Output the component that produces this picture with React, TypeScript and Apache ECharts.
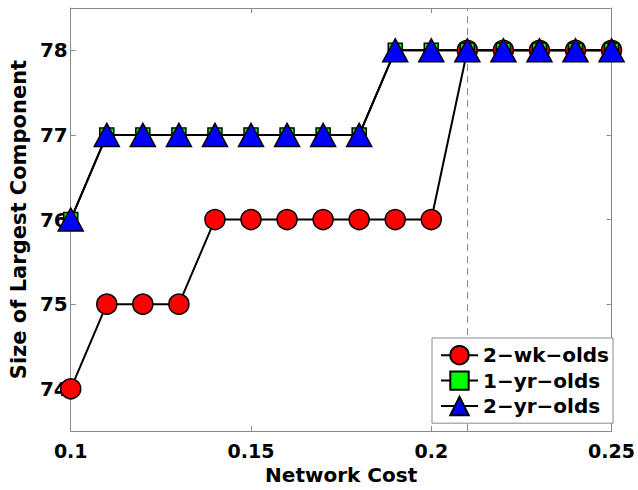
import React, { useEffect, useRef } from "react";
import * as echarts from "echarts";

const costs = [0.10, 0.11, 0.12, 0.13, 0.14, 0.15, 0.16, 0.17, 0.18, 0.19, 0.20, 0.21, 0.22, 0.23, 0.24, 0.25];
const wk2Olds = [74, 75, 75, 75, 76, 76, 76, 76, 76, 76, 76, 78, 78, 78, 78, 78];
const yr1Olds = [76, 77, 77, 77, 77, 77, 77, 77, 77, 78, 78, 78, 78, 78, 78, 78];
const yr2Olds = [76, 77, 77, 77, 77, 77, 77, 77, 77, 78, 78, 78, 78, 78, 78, 78];
const yTicks = [74, 75, 76, 77, 78];
const thresholdCost = 0.21;
const seriesNames = ["2−wk−olds", "1−yr−olds", "2−yr−olds"];

const FONT = '"DejaVu Sans", sans-serif';
const GRAY = "#8a8a8a";

export default function App() {
  const ref = useRef<HTMLDivElement>(null);
  useEffect(() => {
    if (!ref.current) return;
    const chart = echarts.init(ref.current, null, { renderer: "svg" });
    const pair = (ys: number[]) => costs.map((c, i) => [c, ys[i]]);
    const fmtX = (v: number) => String(parseFloat(v.toFixed(2)));
    const baseX = {
      type: "value",
      min: 0.1,
      max: 0.25,
      interval: 0.05,
      axisLine: { show: true, lineStyle: { color: GRAY, width: 1 } },
      axisTick: { show: true, inside: true, length: 5, lineStyle: { color: GRAY } },
      splitLine: { show: false },
    };
    const baseY = {
      type: "value",
      min: 73.5,
      max: 78.5,
      axisLine: { show: true, lineStyle: { color: GRAY, width: 1 } },
      axisTick: { show: true, inside: true, length: 5, lineStyle: { color: GRAY }, customValues: yTicks },
      splitLine: { show: false },
    };
    const lineStyle = { color: "#000", width: 2 };
    chart.setOption({
      animation: false,
      backgroundColor: "#fff",
      grid: { left: 70, right: 24, top: 8, bottom: 54 },
      xAxis: [
        {
          ...baseX,
          position: "bottom",
          name: "Network Cost",
          nameLocation: "middle",
          nameGap: 32,
          nameTextStyle: { fontFamily: FONT, fontWeight: "bold", fontSize: 20, color: "#000" },
          axisLabel: { show: true, formatter: fmtX, fontFamily: FONT, fontWeight: "bold", fontSize: 19, color: "#000", margin: 10 },
        },
        { ...baseX, position: "top", axisLabel: { show: false } },
      ],
      yAxis: [
        {
          ...baseY,
          position: "left",
          name: "Size of Largest Component",
          nameLocation: "middle",
          nameGap: 38,
          nameTextStyle: { fontFamily: FONT, fontWeight: "bold", fontSize: 21, color: "#000" },
          axisLabel: { show: true, customValues: yTicks, fontFamily: FONT, fontWeight: "bold", fontSize: 20, color: "#000", margin: 3 },
        },
        { ...baseY, position: "right", axisLabel: { show: false } },
      ],
      legend: {
        left: 432,
        top: 338,
        orient: "vertical",
        padding: [7, 4, 7, 8],
        itemWidth: 37,
        itemHeight: 23,
        itemGap: 5,
        borderColor: GRAY,
        borderWidth: 1,
        backgroundColor: "#fff",
        borderRadius: 0,
        textStyle: { fontFamily: FONT, fontWeight: "bold", fontSize: 20, color: "#000" },
        data: seriesNames,
      },
      series: [
        {
          name: seriesNames[0],
          type: "line",
          data: pair(wk2Olds),
          symbol: "circle",
          symbolSize: 20,
          clip: false,
          lineStyle,
          itemStyle: { color: "#ff0000", borderColor: "#000", borderWidth: 1.5 },
          markLine: {
            silent: true,
            z: 1,
            symbol: ["none", "none"],
            label: { show: false },
            lineStyle: { color: GRAY, type: [7, 5], width: 1 },
            data: [{ xAxis: thresholdCost }],
          },
        },
        {
          name: seriesNames[1],
          type: "line",
          data: pair(yr1Olds),
          symbol: "rect",
          symbolSize: 14,
          clip: false,
          lineStyle,
          itemStyle: { color: "#00ff00", borderColor: "#000", borderWidth: 1.5 },
        },
        {
          name: seriesNames[2],
          type: "line",
          data: pair(yr2Olds),
          symbol: "triangle",
          symbolSize: [25, 23],
          clip: false,
          lineStyle,
          itemStyle: { color: "#0000ff", borderColor: "#000", borderWidth: 1.5 },
        },
      ],
    });
    return () => chart.dispose();
  }, []);
  return <div ref={ref} style={{ position: "fixed", left: 0, top: 0, width: 638, height: 490 }} />;
}
